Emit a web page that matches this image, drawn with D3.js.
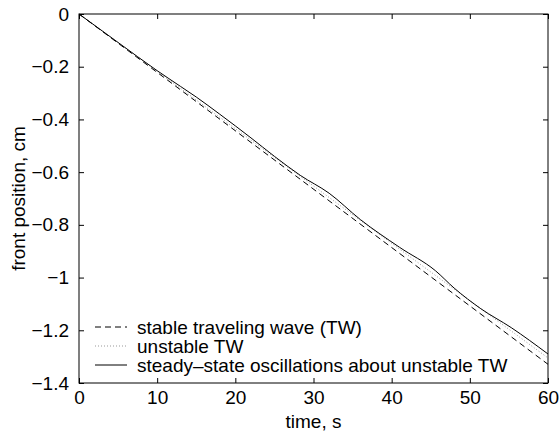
<!DOCTYPE html>
<html>
<head>
<meta charset="utf-8">
<script src="https://cdn.jsdelivr.net/npm/d3@7"></script>
<style>
  body { margin: 0; background: #fff; }
  svg { font-family: "Liberation Sans", Arial, Helvetica, sans-serif; }
</style>
</head>
<body>
<svg id="chart" width="560" height="432"></svg>
<script>
// data
const xTicks = [0, 10, 20, 30, 40, 50, 60]
const yTicks = [0, -0.2, -0.4, -0.6, -0.8, -1, -1.2, -1.4]

const stableT = [0, 60]
const stableV = [0, -1.329]

const unstableT = [0, 60]
const unstableV = [0, -1.305]

const oscT = [0, 5, 10, 13, 15, 18, 22, 25, 28.3, 32, 36, 41, 45.6, 48, 51.4, 55.3, 60]
const oscV = [0, -0.108, -0.215, -0.275, -0.315, -0.38, -0.47, -0.54, -0.612, -0.68, -0.78, -0.885, -0.974, -1.04, -1.118, -1.19, -1.29]

const legendLabels = ['stable traveling wave (TW)', 'unstable TW', 'steady\u2013state oscillations about unstable TW']

const svg = d3.select('#chart')
const mLeft = 79, mRight = 548, mTop = 14, mBottom = 383
const fontSize = 19

const x = d3.scaleLinear().domain([0, 60]).range([mLeft, mRight])
const y = d3.scaleLinear().domain([-1.4, 0]).range([mBottom, mTop])

const fmt = d => d === 0 ? '0' : String(d).replace('-', '\u2212')

// frame
svg.append('rect')
  .attr('x', mLeft).attr('y', mTop)
  .attr('width', mRight - mLeft).attr('height', mBottom - mTop)
  .attr('fill', 'none').attr('stroke', '#000').attr('stroke-width', 1)

const tickLen = 5
const axBottom = svg.append('g').attr('transform', `translate(0,${mBottom})`)
  .call(d3.axisBottom(x).tickValues(xTicks).tickSizeInner(-tickLen).tickSizeOuter(0).tickPadding(8).tickFormat(fmt))
const axTop = svg.append('g').attr('transform', `translate(0,${mTop})`)
  .call(d3.axisTop(x).tickValues(xTicks).tickSizeInner(-tickLen).tickSizeOuter(0).tickFormat(''))
const axLeft = svg.append('g').attr('transform', `translate(${mLeft},0)`)
  .call(d3.axisLeft(y).tickValues(yTicks).tickSizeInner(-tickLen).tickSizeOuter(0).tickPadding(10).tickFormat(fmt))
const axRight = svg.append('g').attr('transform', `translate(${mRight},0)`)
  .call(d3.axisRight(y).tickValues(yTicks).tickSizeInner(-tickLen).tickSizeOuter(0).tickFormat(''))

;[axBottom, axTop, axLeft, axRight].forEach(a => {
  a.select('.domain').remove()
  a.selectAll('text').attr('font-size', fontSize).attr('fill', '#000')
    .attr('font-family', '"Liberation Sans", Arial, sans-serif')
})

// curves
const line = d3.line().x(d => x(d[0])).y(d => y(d[1]))

svg.append('path')
  .datum(unstableT.map((t, i) => [t, unstableV[i]]))
  .attr('d', line).attr('fill', 'none')
  .attr('stroke', '#999').attr('stroke-width', 1).attr('stroke-dasharray', '1,2')

svg.append('path')
  .datum(stableT.map((t, i) => [t, stableV[i]]))
  .attr('d', line).attr('fill', 'none')
  .attr('stroke', '#000').attr('stroke-width', 1).attr('stroke-dasharray', '6,4')

svg.append('path')
  .datum(oscT.map((t, i) => [t, oscV[i]]))
  .attr('d', line.curve(d3.curveMonotoneX)).attr('fill', 'none')
  .attr('stroke', '#000').attr('stroke-width', 1)

// legend
const legendStyles = [
  { stroke: '#000', dash: '6,4' },
  { stroke: '#999', dash: '1,2' },
  { stroke: '#000', dash: null }
]
const legendY = [327, 346, 365]
legendLabels.forEach((lab, i) => {
  const ly = legendY[i]
  svg.append('line')
    .attr('x1', 95).attr('x2', 127).attr('y1', ly).attr('y2', ly)
    .attr('stroke', legendStyles[i].stroke).attr('stroke-width', 1)
    .attr('stroke-dasharray', legendStyles[i].dash)
  svg.append('text')
    .attr('x', 137).attr('y', ly).attr('dy', '0.35em')
    .attr('font-size', fontSize).text(lab)
})

// axis titles
svg.append('text')
  .attr('x', (mLeft + mRight) / 2).attr('y', 428)
  .attr('text-anchor', 'middle').attr('font-size', fontSize)
  .text('time, s')

svg.append('text')
  .attr('transform', `translate(25,${(mTop + mBottom) / 2}) rotate(-90)`)
  .attr('text-anchor', 'middle').attr('font-size', fontSize)
  .text('front position, cm')
</script>
</body>
</html>
